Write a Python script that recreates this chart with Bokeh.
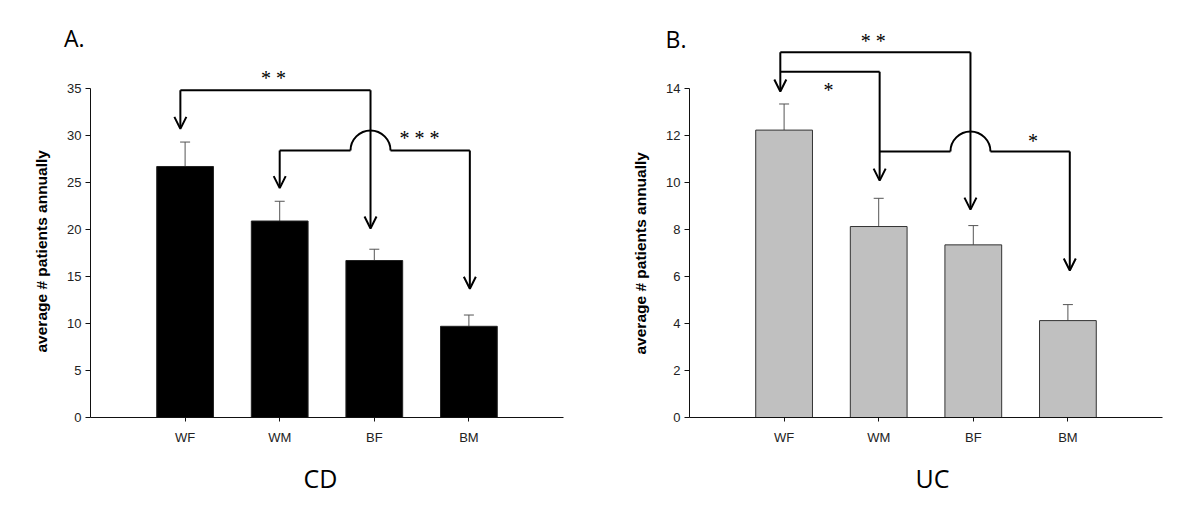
import math
from bokeh.plotting import figure
from bokeh.layouts import row
from bokeh.models import (Range1d, LinearAxis, FixedTicker, Title, Arrow, OpenHead,
                          ColumnDataSource, Whisker, TeeHead)
from bokeh.embed import file_html
from bokeh.resources import INLINE

# ---------------- data ----------------
categories = ["WF", "WM", "BF", "BM"]
cd_means = [26.7, 20.9, 16.7, 9.7]
cd_errors = [2.6, 2.1, 1.2, 1.2]
uc_means = [12.22, 8.12, 7.34, 4.12]
uc_errors = [1.11, 1.20, 0.82, 0.68]
cd_ticks = [0, 5, 10, 15, 20, 25, 30, 35]
uc_ticks = [0, 2, 4, 6, 8, 10, 12, 14]
y_title = "average # patients annually"

FONT = "Liberation Sans"
LINE_W = 2


def make_panel(means, errors, ticks, ymax, fill, outline, borders, name, name_offset,
               ylab_offset):
    left, right, top, bottom = borders
    p = figure(width=600, height=513, output_backend="svg", toolbar_location=None,
               x_range=Range1d(0, 5), y_range=Range1d(0, ymax),
               min_border_left=left, min_border_right=right,
               min_border_top=top, min_border_bottom=bottom,
               x_axis_location=None, y_axis_location=None, title=None)
    p.grid.visible = False
    p.outline_line_color = None
    p.background_fill_color = "white"
    p.border_fill_color = "white"

    xs = [i + 1 for i in range(len(categories))]
    src = ColumnDataSource(dict(x=xs, top=means,
                                up=[m + e for m, e in zip(means, errors)]))
    p.vbar(x="x", top="top", bottom=0, width=0.6, source=src,
           fill_color=fill, line_color=outline, line_width=1)
    p.add_layout(Whisker(source=src, base="x", lower="top", upper="up",
                         line_color="#555555", line_width=1,
                         upper_head=TeeHead(size=10, line_color="#555555", line_width=1),
                         lower_head=None))

    yaxis = LinearAxis(bounds=(0, ticks[-1]), ticker=FixedTicker(ticks=ticks),
                       major_tick_in=0, major_tick_out=5, minor_tick_out=0, minor_tick_in=0,
                       major_label_standoff=4, axis_line_color="#111111",
                       major_tick_line_color="#111111",
                       major_label_text_font=FONT, major_label_text_font_size="13px",
                       major_label_text_color="#222222")
    p.add_layout(yaxis, "left")
    xaxis = LinearAxis(bounds=(0, 5), ticker=FixedTicker(ticks=xs),
                       major_label_overrides={x: c for x, c in zip(xs, categories)},
                       major_tick_in=0, major_tick_out=4, minor_tick_out=0, minor_tick_in=0,
                       major_label_standoff=8, axis_line_color="#111111",
                       major_tick_line_color="#111111",
                       major_label_text_font=FONT, major_label_text_font_size="13px",
                       major_label_text_color="#222222")
    p.add_layout(xaxis, "below")

    # vertical axis title
    p.add_layout(Title(text=y_title, align="left", offset=ylab_offset, standoff=30,
                       text_font=FONT, text_font_size="15.5px", text_font_style="bold",
                       text_color="black"), "left")
    # disease name below
    p.add_layout(Title(text=name, align="left", offset=name_offset, standoff=22,
                       text_font="Open Sans", text_font_size="25px",
                       text_font_style="normal", text_color="black"), "below")
    return p


def panel_letter(p, letter, y, standoff):
    ax = LinearAxis(ticker=FixedTicker(ticks=[y]), major_label_overrides={y: letter},
                    axis_line_color=None, major_tick_line_color=None,
                    major_tick_in=0, major_tick_out=0, minor_tick_in=0, minor_tick_out=0,
                    major_label_standoff=standoff, major_label_text_align="left",
                    major_label_text_baseline="middle",
                    major_label_text_font="Open Sans", major_label_text_font_size="23px",
                    major_label_text_color="black")
    p.add_layout(ax, "left")


def add_bracket(p, xa, xb, level, tip_a, tip_b, arrow_a=True, hop_x=None):
    if hop_x is None:
        p.line([xa, xb], [level, level], line_color="black", line_width=LINE_W)
    else:
        r = 20 / 94.6
        p.line([xa, hop_x - r], [level, level], line_color="black", line_width=LINE_W)
        p.line([hop_x + r, xb], [level, level], line_color="black", line_width=LINE_W)
        p.arc(x=[hop_x], y=[level], radius=20, radius_units="screen",
              start_angle=0, end_angle=math.pi, line_color="black", line_width=LINE_W)
    for x, tip, has in ((xa, tip_a, arrow_a), (xb, tip_b, True)):
        if has:
            p.add_layout(Arrow(x_start=x, y_start=level, x_end=x, y_end=tip,
                               line_width=LINE_W, line_color="black",
                               end=OpenHead(size=12, line_width=LINE_W, line_color="black")))


def stars(p, x, y, s):
    p.text(x=[x], y=[y], text=[s], text_font="Liberation Sans", text_font_size="20px",
           text_align="center", text_baseline="middle", text_color="black", y_offset=2)


# ---------- Panel A (CD) ----------
pA = make_panel(cd_means, cd_errors, cd_ticks, 42.23, "black", "#222222",
                (90, 37, 20, 96), "CD", 213, 65)
panel_letter(pA, "A.", 40.4, -69)
xA = [i + 1 + o for i, o in enumerate([-0.05, 0.0, -0.04, 0.01])]
add_bracket(pA, xA[0], xA[2], 34.8, 30.7, 20.1)
add_bracket(pA, xA[1], xA[3], 28.4, 24.4, 13.7, hop_x=xA[2])
stars(pA, 1.96, 36.3, "*  *")
stars(pA, 3.53, 29.9, "*  *  *")

# ---------- Panel B (UC) ----------
pB = make_panel(uc_means, uc_errors, uc_ticks, 16.88, "#c0c0c0", "#333333",
                (89, 38, 20, 96), "UC", 226, 63)
panel_letter(pB, "B.", 16.1, -72)
xB = [i + 1 + o for i, o in enumerate([-0.04, 0.01, -0.03, 0.02])]
add_bracket(pB, xB[0], xB[2], 15.53, 13.86, 8.84)
add_bracket(pB, xB[0], xB[1], 14.7, 13.86, 10.07, arrow_a=False)
add_bracket(pB, xB[1], xB[3], 11.31, 10.07, 6.25, arrow_a=False, hop_x=xB[2])
stars(pB, 1.97, 16.1, "*  *")
stars(pB, 1.47, 13.99, "*")
stars(pB, 3.63, 11.86, "*")

layout = row(pA, pB)
open("out.html", "w").write(file_html(layout, INLINE))
